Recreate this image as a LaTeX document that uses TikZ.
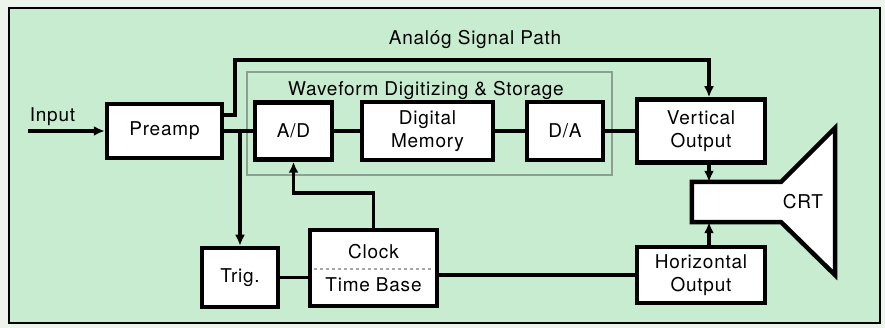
\documentclass[tikz,border=0pt]{standalone}
\usepackage{fontspec}
\setmainfont[LetterSpace=4]{TeX Gyre Heros}
\usetikzlibrary{arrows.meta}
\definecolor{panel}{RGB}{200,236,208}
\definecolor{paper}{RGB}{236,244,236}
\definecolor{groupline}{RGB}{140,160,145}
\tikzset{
  blk/.style={draw, fill=white, line width=4.5pt, align=center, inner sep=0pt},
  sig/.style={line width=3.8pt},
}
\begin{document}
\begin{tikzpicture}[x=1pt, y=-1pt, >={Latex[length=11pt,width=10pt]}, font=\fontsize{19}{23}\selectfont]
\useasboundingbox (0,0) rectangle (885,328);
\fill[paper] (0,0) rectangle (885,328);
\draw[fill=panel, line width=2pt] (9,8) rectangle (880,323);
% storage group
\draw[groupline, line width=1.2pt] (247,72) rectangle (612,175);
\node[anchor=base] (wfd) at (426,96) {Waveform Digitizing \& Storage};
\node[anchor=base] (ana) at (475,45) {Anal\'og Signal Path};
\node[anchor=base] (in) at (52.5,122) {Input};
% blocks
\node[blk, minimum width=115pt, minimum height=54pt] (pre) at (164.5,131) {Preamp};
\node[blk, minimum width=77pt, minimum height=57pt] (ad) at (293.5,131) {A/D};
\node[blk, minimum width=131pt, minimum height=58pt] (mem) at (427.5,131) {Digital\\Memory};
\node[blk, minimum width=76pt, minimum height=58pt] (da) at (565,131) {D/A};
\node[blk, minimum width=128pt, minimum height=63pt] (vout) at (701,131) {Vertical\\Output};
\node[blk, minimum width=76pt, minimum height=59pt] (trig) at (240,277.5) {Trig.};
\node[blk, minimum width=127pt, minimum height=76pt] (clk) at (373.5,268) {Clock\\[10pt]Time Base};
\node[blk, minimum width=128pt, minimum height=56pt] (hout) at (701,275) {Horizontal\\Output};
\draw[black!35, dashed, line width=1.2pt] ([xshift=6pt,yshift=-1pt]clk.west) -- ([xshift=-6pt,yshift=-1pt]clk.east);
% CRT
\node[minimum width=89pt, minimum height=40pt, inner sep=0pt] (crt) at (736.5,202) {};
\draw[fill=white, line width=4.5pt] (crt.north west) -- (crt.north east) -- (835,128) -- (835,275) -- (crt.south east) -- (crt.south west) -- cycle;
\node (crtl) at (803,202) {CRT};
% signal lines
\coordinate (src) at (28,131);
\coordinate (hop) at (235,60);
\draw[sig,->] (src) -- (pre.west);
\draw[sig] (pre) -- (ad);
\draw[sig] (ad) -- (mem);
\draw[sig] (mem) -- (da);
\draw[sig] (da) -- (vout);
\draw[sig,->] (pre.east -| trig.north) -- (trig.north);
\draw[sig,->] ([yshift=16pt]pre.east) -| (hop) -| ([xshift=8pt]vout.north);
\draw[sig,->] (clk.north) -- ++(0,-35) -| (ad.south);
\draw[sig] (trig.east) -- (trig.east -| clk.west);
\draw[sig] (hout.west -| clk.east) -- (hout.west);
\draw[sig,->] ([xshift=8pt]vout.south) -- ([xshift=8pt]vout.south |- crt.north);
\draw[sig,->] ([xshift=8pt]hout.north) -- ([xshift=8pt]hout.north |- crt.south);
\end{tikzpicture}
\end{document}
